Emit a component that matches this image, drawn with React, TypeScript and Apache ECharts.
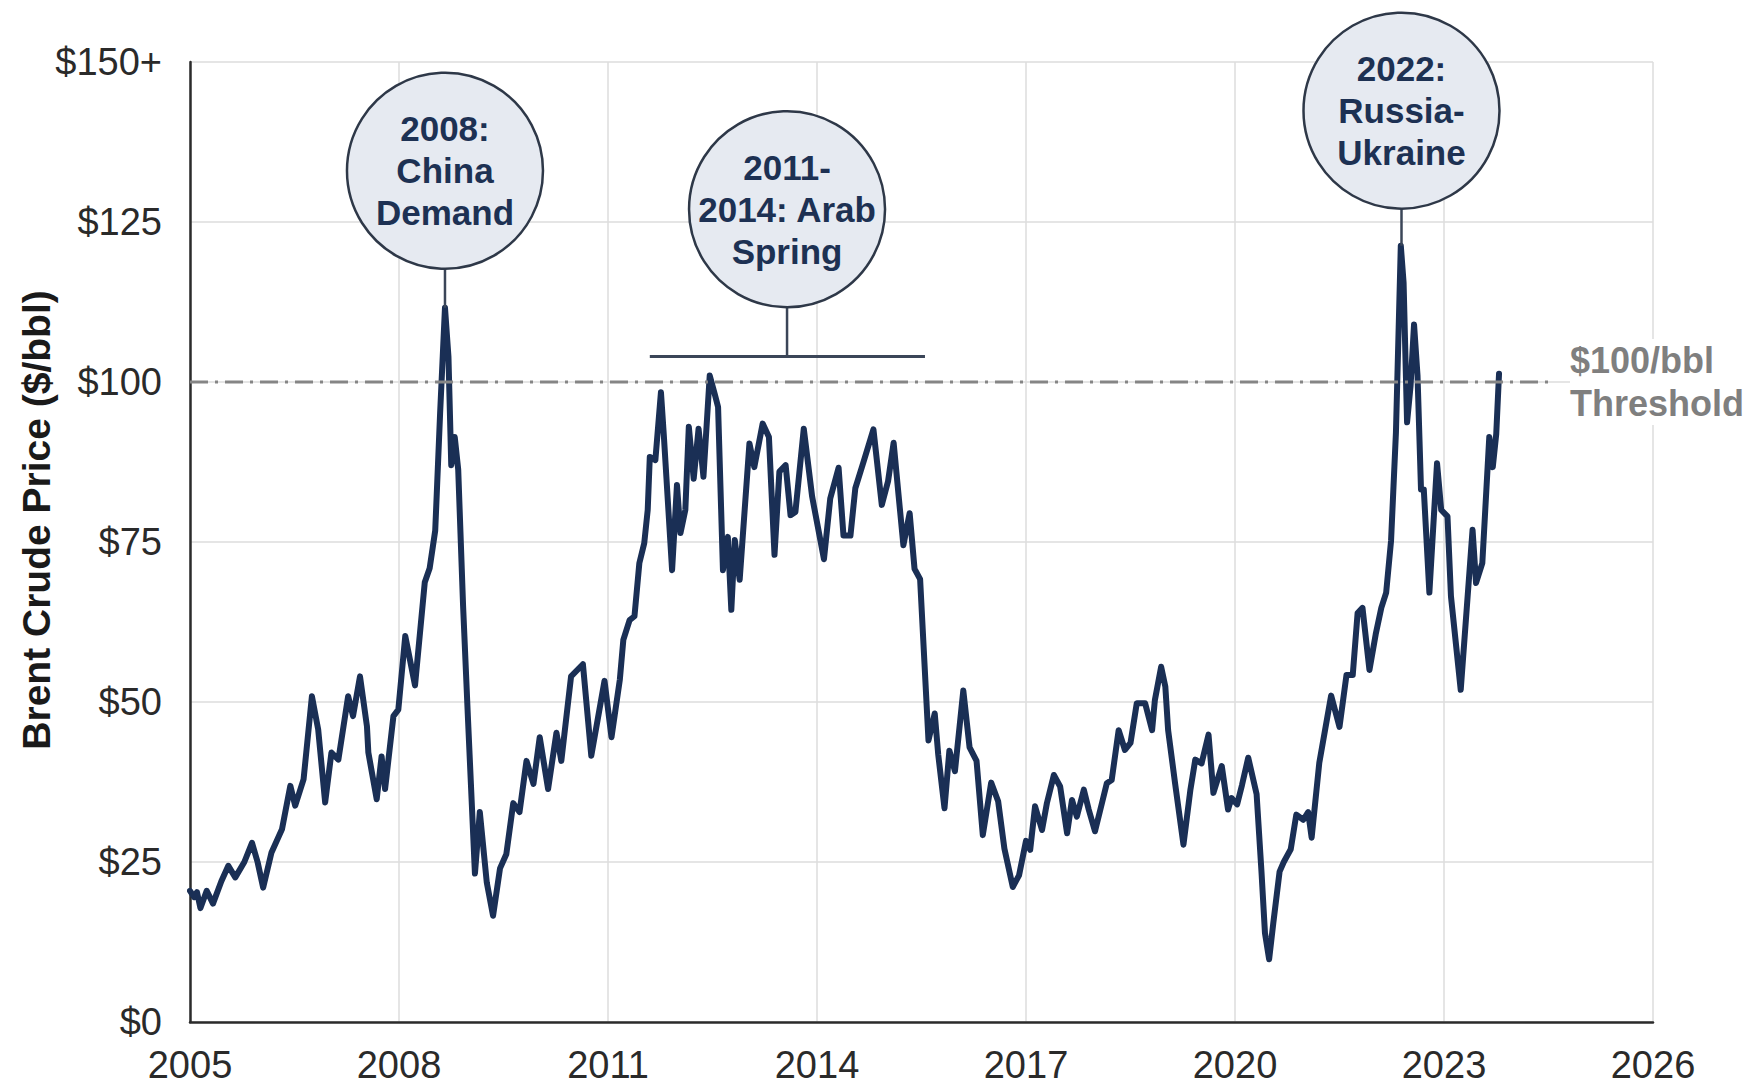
import React, { useEffect, useRef } from "react";
import * as echarts from "echarts";

// ---- Data ----
const years: number[] = [
  2005.0, 2005.06, 2005.1, 2005.15, 2005.24, 2005.33, 2005.45, 2005.55, 2005.65, 2005.78, 2005.89, 2005.97,
  2006.05, 2006.17, 2006.32, 2006.44, 2006.51, 2006.63, 2006.75, 2006.84, 2006.94,
  2007.03, 2007.13, 2007.27, 2007.34, 2007.44, 2007.54, 2007.56, 2007.68, 2007.75, 2007.8, 2007.92, 2007.99,
  2008.09, 2008.23, 2008.37, 2008.44, 2008.52, 2008.59, 2008.66, 2008.71, 2008.75, 2008.8, 2008.85, 2008.92, 2008.99,
  2009.09, 2009.16, 2009.26, 2009.35, 2009.45, 2009.54, 2009.64, 2009.73, 2009.83, 2009.93,
  2010.02, 2010.14, 2010.26, 2010.33, 2010.47, 2010.64, 2010.76, 2010.95,
  2011.05, 2011.17, 2011.22, 2011.31, 2011.38, 2011.45, 2011.52, 2011.57, 2011.6, 2011.68, 2011.76, 2011.8, 2011.92, 2011.99,
  2012.04, 2012.11, 2012.16, 2012.23, 2012.3, 2012.37, 2012.46, 2012.53, 2012.58, 2012.65, 2012.72, 2012.77, 2012.82, 2012.89,
  2013.03, 2013.1, 2013.22, 2013.31, 2013.39, 2013.46, 2013.55, 2013.62, 2013.69, 2013.81, 2013.93,
  2014.1, 2014.19, 2014.31, 2014.38, 2014.48, 2014.55, 2014.67, 2014.81, 2014.93,
  2015.02, 2015.1, 2015.17, 2015.24, 2015.33, 2015.4, 2015.48, 2015.6, 2015.69, 2015.74, 2015.83, 2015.9, 2015.98,
  2016.1, 2016.19, 2016.29, 2016.38, 2016.5, 2016.6, 2016.69, 2016.81, 2016.9,
  2017.0, 2017.06, 2017.13, 2017.23, 2017.3, 2017.4, 2017.49, 2017.59, 2017.66, 2017.73, 2017.83, 2017.9, 2017.99,
  2018.09, 2018.16, 2018.23, 2018.33, 2018.42, 2018.5, 2018.59, 2018.71, 2018.81, 2018.85, 2018.94,
  2019.0, 2019.04, 2019.14, 2019.26, 2019.36, 2019.43, 2019.52, 2019.62, 2019.69, 2019.81, 2019.9, 2019.95,
  2020.03, 2020.1, 2020.19, 2020.31, 2020.38, 2020.43, 2020.49, 2020.55, 2020.64, 2020.7, 2020.8, 2020.88, 2020.98,
  2021.05, 2021.1, 2021.21, 2021.38, 2021.5, 2021.6, 2021.69, 2021.76, 2021.83, 2021.93,
  2022.02, 2022.1, 2022.17, 2022.24, 2022.31, 2022.38, 2022.42, 2022.47, 2022.52, 2022.57, 2022.62, 2022.67, 2022.71,
  2022.79, 2022.86, 2022.9, 2022.96,
  2023.05, 2023.1, 2023.24, 2023.41, 2023.46, 2023.55, 2023.65, 2023.7, 2023.75, 2023.79,
];

const brentPrice: number[] = [
  20.5, 19.5, 20.3, 17.8, 20.5, 18.5, 22, 24.4, 22.6, 25, 28, 25,
  21, 26.5, 30.1, 36.9, 33.8, 37.9, 50.9, 45.7, 34.3,
  42.1, 41.0, 50.9, 47.8, 54.0, 46.2, 42.1, 34.8, 41.5, 36.4, 47.8, 48.8,
  60.3, 52.6, 68.7, 70.9, 76.8, 95.1, 111.6, 103.9, 87, 91.4, 86.3, 65, 47.4,
  23.2, 32.8, 21.8, 16.6, 24, 26.2, 34.2, 32.8, 40.8, 37.2,
  44.5, 36.4, 45.2, 40.8, 54, 55.9, 41.6, 53.3,
  44.5, 53.5, 59.7, 62.8, 63.4, 71.7, 74.8, 80, 88.3, 87.8, 98.4, 91.9, 70.6, 83.9,
  76.4, 80, 93, 84.9, 92.7, 85.2, 101, 98.2, 96.1, 70.6, 75.8, 64.4, 75.3, 69.1,
  90.4, 86.7, 93.5, 91.4, 73, 86, 87, 79.2, 79.7, 92.7, 82.1,
  72.3, 81.8, 86.6, 76, 76, 83.4, 87.6, 92.6, 80.8,
  84.5, 90.5, 82.4, 74.5, 79.5, 70.8, 69.2, 44, 48.2, 41.8, 33.4, 42.4, 39.2,
  51.8, 42.9, 40.8, 29.2, 37.4, 34.5, 27.1, 21.1, 22.9,
  28.3, 26.9, 33.7, 30, 34.2, 38.6, 36.8, 29.5, 34.7, 32.1, 36.3, 33.2, 29.8,
  34.2, 37.3, 37.8, 45.6, 42.5, 43.6, 49.8, 49.8, 45.6, 50.3, 55.5,
  52.4, 45.6, 37.3, 27.7, 36.3, 41, 40.4, 44.9, 35.8, 40, 33.2, 35,
  34, 37, 41.3, 35.6, 23.5, 13.9, 9.8, 15.5, 23.5, 25, 27, 32.4, 31.6,
  32.8, 28.8, 40.5, 51, 46.1, 54.2, 54.2, 63.9, 64.7, 55,
  60.6, 64.7, 67.1, 75.2, 92.1, 121.3, 115.5, 93.7, 99.4, 109, 101, 83.2, 83.2,
  67.1, 80, 87.3, 80,
  79, 66.5, 51.9, 76.9, 68.6, 71.7, 91.4, 86.7, 91.9, 101.3,
];

const axisStartYear = 2005;
const axisEndYear = 2026;
const xTickStep = 3;
const yTickStep = 25;
const yMax = 150;

const thresholdValue = 100;
const thresholdEndYear = 2024.55;
const thresholdLabel = "$100/bbl\nThreshold";

const eventLabels: string[] = ["2008:\nChina\nDemand", "2011-\n2014: Arab\nSpring", "2022:\nRussia-\nUkraine"];
const eventYears: number[] = [2008.66, 2013.57, 2022.39];
const eventBubbleLevels: number[] = [133, 127, 142.4];
const eventAnchorLevels: number[] = [111.6, 104, 121.3];
// Arab Spring bracket span (years) at the anchor level
const bracketSpan: number[] = [2011.6, 2015.55];

const FONT = "'Liberation Sans', Arial, Helvetica, sans-serif";
const NAVY = "#1a2f55";

export default function App() {
  const ref = useRef<HTMLDivElement>(null);

  useEffect(() => {
    if (!ref.current) return;
    const chart = echarts.init(ref.current, undefined, { renderer: "svg" });

    const toX = (y: number) => y - axisStartYear;
    const lineData = years.map((y, i) => [toX(y), brentPrice[i]]);

    const stemSeries: any[] = eventYears.map((ey, i) => ({
      type: "line",
      data: [
        [toX(ey), eventBubbleLevels[i]],
        [toX(ey), eventAnchorLevels[i]],
      ],
      symbol: "none",
      silent: true,
      z: 4,
      lineStyle: { color: "#3b4658", width: 2.5 },
    }));
    stemSeries.push({
      type: "line",
      data: [
        [toX(bracketSpan[0]), eventAnchorLevels[1]],
        [toX(bracketSpan[1]), eventAnchorLevels[1]],
      ],
      symbol: "none",
      silent: true,
      z: 4,
      lineStyle: { color: "#3b4658", width: 3 },
    });

    chart.setOption({
      animation: false,
      backgroundColor: "#ffffff",
      textStyle: { fontFamily: FONT },
      grid: { left: 190, right: 101, top: 62, bottom: 65, containLabel: false },
      xAxis: {
        type: "value",
        min: 0,
        max: axisEndYear - axisStartYear,
        interval: xTickStep,
        axisLine: { show: true, lineStyle: { color: "#2b2b2b", width: 2.5 } },
        axisTick: { show: false },
        axisLabel: {
          formatter: (v: number) => String(axisStartYear + v),
          color: "#2a2a2a",
          fontSize: 38,
          margin: 24,
          fontFamily: FONT,
        },
        splitLine: { show: true, lineStyle: { color: "#dcdcdc", width: 1.5 } },
      },
      yAxis: {
        type: "value",
        min: 0,
        max: yMax,
        interval: yTickStep,
        name: "Brent Crude Price ($/bbl)",
        nameLocation: "middle",
        nameGap: 134,
        nameMoveOverlap: false,
        nameTextStyle: {
          fontSize: 39,
          fontWeight: "bold",
          color: "#1a1a1a",
          fontFamily: FONT,
          padding: [0, 0, 0, 44],
        },
        axisLine: { show: true, lineStyle: { color: "#2b2b2b", width: 2.5 } },
        axisTick: { show: false },
        axisLabel: {
          formatter: (v: number) => (v === yMax ? "$" + v + "+" : "$" + v),
          color: "#2a2a2a",
          fontSize: 38,
          margin: 28,
          fontFamily: FONT,
        },
        splitLine: { show: true, lineStyle: { color: "#dcdcdc", width: 1.5 } },
      },
      series: [
        {
          type: "line",
          data: lineData,
          symbol: "none",
          z: 2,
          lineStyle: { color: NAVY, width: 6, join: "round", cap: "round" },
        },
        {
          type: "line",
          data: [
            [0, thresholdValue],
            [toX(thresholdEndYear), thresholdValue],
          ],
          symbol: "none",
          silent: true,
          z: 3,
          lineStyle: { color: "#858585", width: 3, type: [18, 7, 3, 7] },
          endLabel: {
            show: true,
            formatter: thresholdLabel,
            distance: 18,
            color: "#7f7f7f",
            fontSize: 36,
            lineHeight: 43,
            fontWeight: "bold",
            fontFamily: FONT,
            backgroundColor: "#ffffff",
            align: "left",
          },
        },
        ...stemSeries,
        {
          type: "scatter",
          clip: false,
          z: 5,
          symbol: "circle",
          symbolSize: 196,
          data: eventYears.map((ey, i) => ({
            value: [toX(ey), eventBubbleLevels[i]],
            label: { formatter: eventLabels[i] },
          })),
          itemStyle: { color: "#e6eaf1", borderColor: "#2e3848", borderWidth: 2.5, opacity: 1 },
          label: {
            show: true,
            position: "inside",
            color: "#1d3153",
            fontSize: 35,
            lineHeight: 42,
            fontWeight: "bold",
            fontFamily: FONT,
          },
          emphasis: { disabled: true },
        },
      ],
    });

    return () => chart.dispose();
  }, []);

  return (
    <div
      ref={ref}
      style={{ position: "absolute", left: 0, top: 0, width: 1754, height: 1087, background: "#fff" }}
    />
  );
}
